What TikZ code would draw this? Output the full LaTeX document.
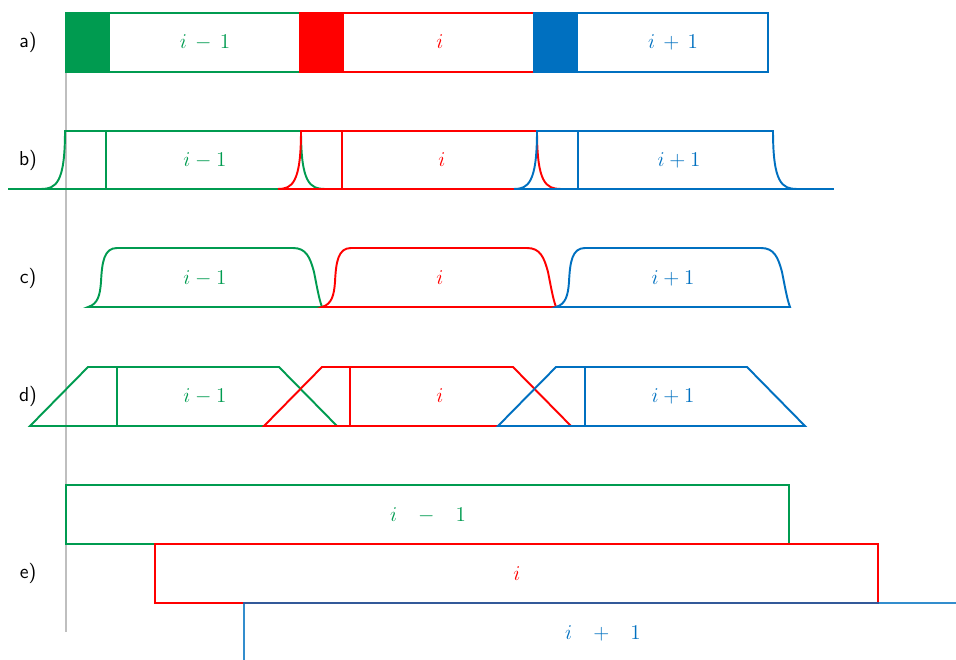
\documentclass[tikz,border=0pt]{standalone}
\usepackage{amsmath}
\usepackage{tikz}
\usepackage{xcolor}

\definecolor{cgreen}{RGB}{0,155,80}
\definecolor{cred}{RGB}{255,0,0}
\definecolor{cblue}{RGB}{0,112,192}

\begin{document}
\begin{tikzpicture}[x=0.02cm, y=-0.02cm, line width=1.1pt,
    rowlabel/.style={font=\fontsize{11.5}{14}\selectfont\sffamily},
    blocklabel/.style={font=\fontsize{11.5}{14}\selectfont}]

    % ==========================================
    % FRAME & REFERENCE LINE
    % ==========================================

    \clip (0,0) rectangle (956,659);

    % Gray line marking the start of block i-1
    \draw[gray!50, line width=0.9pt] (66,42) -- (66,632);

    % Row labels
    \node[rowlabel] (rowa) at (28,42)  {a)};
    \node[rowlabel] (rowb) at (28,160) {b)};
    \node[rowlabel] (rowc) at (28,278) {c)};
    \node[rowlabel] (rowd) at (28,396) {d)};
    \node[rowlabel] (rowe) at (28,573) {e)};

    % ==========================================
    % a) RECTANGULAR BLOCKS WITH FILLED PREFIX
    % ==========================================

    \def\xa{66}   % start of block i-1
    \def\pa{234}  % block length
    \def\ga{44}   % prefix length

    \fill[cgreen] (\xa,13) rectangle (\xa+\ga,72);
    \draw[cgreen] (\xa,13) rectangle (\xa+\pa,72);
    \fill[cred] (\xa+\pa,13) rectangle (\xa+\pa+\ga,72);
    \draw[cred] (\xa+\pa,13) rectangle (\xa+2*\pa,72);
    \fill[cblue] (\xa+2*\pa,13) rectangle (\xa+2*\pa+\ga,72);
    \draw[cblue] (\xa+2*\pa,13) rectangle (\xa+3*\pa,72);

    \node[blocklabel, cgreen] (a1) at (205,42) {$i\,-\,1$};
    \node[blocklabel, cred]   (a2) at (440,42) {$i$};
    \node[blocklabel, cblue]  (a3) at (673,42) {$i\,+\,1$};

    % ==========================================
    % b) BLOCKS WITH STEEP EXPONENTIAL EDGES
    % ==========================================

    % Top left corner of each block
    \def\xbg{65}
    \def\xbr{301}
    \def\xbb{537}

    % Green block
    \draw[cgreen] (8,189) -- (\xbg+260,189);
    \draw[cgreen] (\xbg-24,189) .. controls (\xbg-9,189) and (\xbg,183) .. (\xbg,131)
        -- (\xbr,131) .. controls (\xbr,183) and (\xbr+9,189) .. (\xbr+24,189);
    \draw[cgreen] (\xbg+41,131) -- (\xbg+41,189);

    % Red block
    \draw[cred] (\xbr-23,189) -- (\xbb+24,189);
    \draw[cred] (\xbr-23,189) .. controls (\xbr-9,189) and (\xbr,183) .. (\xbr,131)
        -- (\xbb,131) .. controls (\xbb,183) and (\xbb+9,189) .. (\xbb+24,189);
    \draw[cred] (\xbr+41,131) -- (\xbr+41,189);

    % Blue block
    \draw[cblue] (\xbb-23,189) -- (834,189);
    \draw[cblue] (\xbb-23,189) .. controls (\xbb-9,189) and (\xbb,183) .. (\xbb,131)
        -- (773,131) .. controls (773,183) and (782,189) .. (797,189);
    \draw[cblue] (\xbb+41,131) -- (\xbb+41,189);

    \node[blocklabel, cgreen] (b1) at (205,160) {$i-1$};
    \node[blocklabel, cred]   (b2) at (442,160) {$i$};
    \node[blocklabel, cblue]  (b3) at (679,160) {$i+1$};

    % ==========================================
    % c) BLOCKS WITH SMOOTH EDGES
    % ==========================================

    \def\xcg{88}
    \def\xcr{322}
    \def\xcb{556}

    \draw[cgreen] (\xcg,307) .. controls (\xcg+10,304) and (\xcg+12,295) .. (\xcg+13,282)
        .. controls (\xcg+14,262) and (\xcg+16,248) .. (\xcg+29,248) -- (\xcg+205,248)
        .. controls (\xcg+218,248) and (\xcg+222,257) .. (\xcg+226,272)
        .. controls (\xcg+229,287) and (\xcg+231,299) .. (\xcg+234,307) -- cycle;
    \draw[cred] (\xcr,307) .. controls (\xcr+10,304) and (\xcr+12,295) .. (\xcr+13,282)
        .. controls (\xcr+14,262) and (\xcr+16,248) .. (\xcr+29,248) -- (\xcr+205,248)
        .. controls (\xcr+218,248) and (\xcr+222,257) .. (\xcr+226,272)
        .. controls (\xcr+229,287) and (\xcr+231,299) .. (\xcr+234,307) -- cycle;
    \draw[cblue] (\xcb,307) .. controls (\xcb+10,304) and (\xcb+12,295) .. (\xcb+13,282)
        .. controls (\xcb+14,262) and (\xcb+16,248) .. (\xcb+29,248) -- (\xcb+205,248)
        .. controls (\xcb+218,248) and (\xcb+222,257) .. (\xcb+226,272)
        .. controls (\xcb+229,287) and (\xcb+231,299) .. (\xcb+234,307) -- cycle;

    \node[blocklabel, cgreen] (c1) at (205,278) {$i-1$};
    \node[blocklabel, cred]   (c2) at (440,278) {$i$};
    \node[blocklabel, cblue]  (c3) at (673,278) {$i+1$};

    % ==========================================
    % d) TRAPEZOIDAL BLOCKS
    % ==========================================

    \def\xdg{30}
    \def\xdr{264}
    \def\xdb{498}

    \draw[cgreen] (\xdg,426) -- (\xdg+58,367) -- (\xdg+249,367) -- (\xdg+307,426) -- cycle;
    \draw[cgreen] (\xdg+87,367) -- (\xdg+87,426);
    \draw[cred] (\xdr,426) -- (\xdr+58,367) -- (\xdr+249,367) -- (\xdr+307,426) -- cycle;
    \draw[cred] (\xdr+86,367) -- (\xdr+86,426);
    \draw[cblue] (\xdb,426) -- (\xdb+58,367) -- (\xdb+249,367) -- (\xdb+307,426) -- cycle;
    \draw[cblue] (\xdb+87,367) -- (\xdb+87,426);

    \node[blocklabel, cgreen] (d1) at (205,396) {$i-1$};
    \node[blocklabel, cred]   (d2) at (440,396) {$i$};
    \node[blocklabel, cblue]  (d3) at (673,396) {$i+1$};

    % ==========================================
    % e) LONG SHIFTED BLOCKS
    % ==========================================

    \draw[cgreen] (66,485) rectangle (789,544);
    \draw[cred] (155,544) rectangle (878,603);
    \draw[cblue, opacity=0.8] (244,670) -- (244,603) -- (970,603);

    \node[blocklabel, cgreen] (e1) at (428,515) {$i\mskip14mu-\mskip14mu1$};
    \node[blocklabel, cred]   (e2) at (517,574) {$i$};
    \node[blocklabel, cblue]  (e3) at (603,633) {$i\mskip14mu+\mskip14mu1$};

\end{tikzpicture}
\end{document}
